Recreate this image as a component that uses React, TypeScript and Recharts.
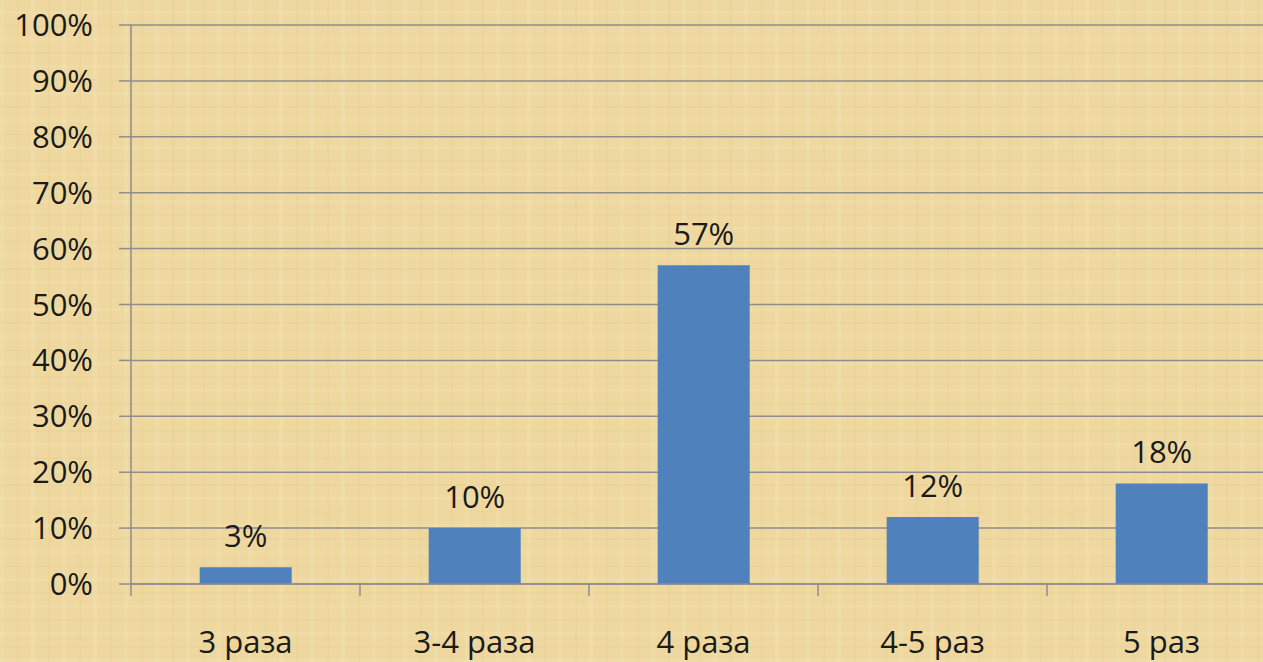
import React from "react";
import { BarChart, Bar, XAxis, YAxis, CartesianGrid, LabelList } from "recharts";

const categories = ["3 раза", "3-4 раза", "4 раза", "4-5 раз", "5 раз"];
const values = [0.03, 0.1, 0.57, 0.12, 0.18];
const yTicks = [0, 0.1, 0.2, 0.3, 0.4, 0.5, 0.6, 0.7, 0.8, 0.9, 1];

const data = categories.map((c, i) => ({ name: c, value: values[i] }));

const FONT = "'Open Sans', 'Noto Sans', sans-serif";
const AXIS = "#8e8e8e";
const FS = 31;
const pct = (v: number) => `${Math.round(v * 100)}%`;

const XTick = (props: any) => {
  const { x, y, payload, index, width } = props;
  const bw = (width || 1145) / categories.length;
  return (
    <g>
      <line x1={x - bw / 2} x2={x - bw / 2} y1={y} y2={y + 12} stroke={AXIS} strokeWidth={1.5} />
      {index === categories.length - 1 && (
        <line x1={x + bw / 2} x2={x + bw / 2} y1={y} y2={y + 12} stroke={AXIS} strokeWidth={1.5} />
      )}
      <text x={x} y={y + 69} textAnchor="middle" fontSize={FS} fontFamily={FONT} fill="#1a1a1a">
        {payload.value}
      </text>
    </g>
  );
};

export default function App() {
  return (
    <div
      style={{
        position: "absolute",
        left: 0,
        top: 0,
        width: 1263,
        height: 662,
        overflow: "hidden",
        backgroundColor: "#eed89f",
        backgroundImage:
          "repeating-linear-gradient(90deg, rgba(255,250,230,0.10) 0 4px, rgba(0,0,0,0) 4px 17px, rgba(190,150,70,0.05) 17px 19px, rgba(0,0,0,0) 19px 31px), repeating-linear-gradient(0deg, rgba(255,250,230,0.09) 0 3px, rgba(0,0,0,0) 3px 14px, rgba(190,150,70,0.05) 14px 16px, rgba(0,0,0,0) 16px 27px)",
      }}
    >
      <BarChart
        width={1290}
        height={662}
        data={data}
        margin={{ top: 25, right: 14, left: 0, bottom: 0 }}
        barCategoryGap="30%"
      >
        <CartesianGrid vertical={false} stroke={AXIS} strokeWidth={1.5} />
        <XAxis
          dataKey="name"
          height={78}
          axisLine={{ stroke: AXIS, strokeWidth: 1.5 }}
          tickLine={false}
          tickSize={0}
          tickMargin={0}
          tick={<XTick />}
          interval={0}
        />
        <YAxis
          width={131}
          domain={[0, 1]}
          ticks={yTicks}
          tickFormatter={pct}
          axisLine={{ stroke: AXIS, strokeWidth: 1.5 }}
          tickLine={{ stroke: AXIS, strokeWidth: 1.5 }}
          tickSize={12}
          tickMargin={26}
          tick={{ fontSize: FS, fontFamily: FONT, fill: "#1a1a1a" }}
          interval={0}
        />
        <Bar dataKey="value" fill="#4f81bd" isAnimationActive={false}>
          <LabelList
            dataKey="value"
            position="top"
            offset={20}
            formatter={(v: any) => pct(Number(v))}
            style={{ fontSize: FS, fontFamily: FONT, fill: "#1a1a1a" }}
          />
        </Bar>
      </BarChart>
    </div>
  );
}
